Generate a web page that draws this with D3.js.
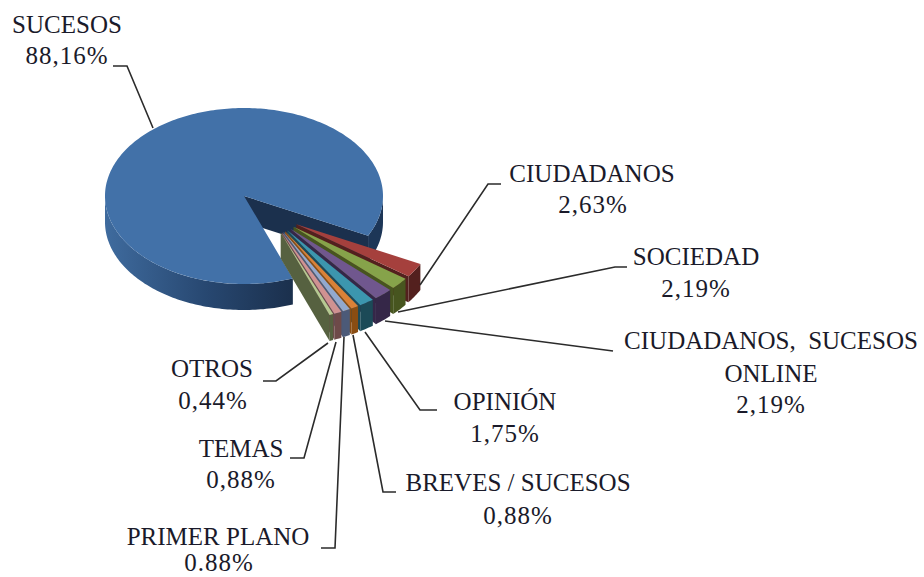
<!DOCTYPE html>
<html>
<head>
<meta charset="utf-8">
<script src="https://cdn.jsdelivr.net/npm/d3@7"></script>
<style>
html, body { margin: 0; padding: 0; background: #fff; overflow: hidden; }
svg { display: block; }
text { font-family: "Liberation Serif", serif; font-size: 25px; fill: #1a1a2a; }
text.pct { letter-spacing: 1px; }
</style>
</head>
<body>
<div id="chart-area"></div>
<script>
// chart values
var categories = ["SUCESOS", "CIUDADANOS", "SOCIEDAD", "CIUDADANOS,  SUCESOS", "OPINIÓN", "BREVES / SUCESOS", "PRIMER PLANO", "TEMAS", "OTROS"];
var values = [88.16, 2.63, 2.19, 2.19, 1.75, 0.88, 0.88, 0.88, 0.44];
var valueLabels = ["88,16%", "2,63%", "2,19%", "2,19%", "1,75%", "0,88%", "0.88%", "0,88%", "0,44%"];

// small slices: top colour, wall colour
var sliceValues = values.slice(1);
var topColors = ["#a5403d", "#86a34a", "#70578e", "#3c96ae", "#da8137", "#92a9cf", "#d09291", "#b5ca92"];
var wallColors = ["#53201e", "#47551f", "#352748", "#1c4a57", "#8a4d12", "#4c5a78", "#6e4a49", "#566140"];

var width = 924, height = 577;
var cx = 244, cy = 196, rx = 139, ry = 88, depth = 26;

var svg = d3.select("#chart-area").append("svg")
  .attr("width", width)
  .attr("height", height);

var grad = svg.append("defs").append("linearGradient")
  .attr("id", "wall")
  .attr("gradientUnits", "userSpaceOnUse")
  .attr("x1", cx - rx).attr("x2", cx + 48).attr("y1", 0).attr("y2", 0);
grad.append("stop").attr("offset", "0%").attr("stop-color", "#3f6b9e");
grad.append("stop").attr("offset", "55%").attr("stop-color", "#274770");
grad.append("stop").attr("offset", "100%").attr("stop-color", "#1b304d");

// angles in radians, clockwise from east on the flattened disc
var rad = d3.scaleLinear().domain([0, 100]).range([0, 2 * Math.PI]);
var startAngle = 26.8 * Math.PI / 180;

function px(a) { return rx * Math.cos(a); }
function py(a) { return ry * Math.sin(a); }

function arcPoints(x0, y0, a0, a1) {
  var n = Math.max(2, Math.ceil(Math.abs(a1 - a0) / 0.02));
  return d3.range(n + 1).map(function(i) {
    var a = a0 + (a1 - a0) * i / n;
    return [x0 + px(a), y0 + py(a)];
  });
}
var line = d3.line();

// main slice
var mainStart = startAngle + rad(d3.sum(sliceValues));
var mainEnd = startAngle + 2 * Math.PI;

// cut face seen through the gap
svg.append("path")
  .attr("fill", "#1b304d")
  .attr("d", line([[cx, cy], [cx + px(mainEnd), cy + py(mainEnd)], [cx + px(mainEnd), cy + py(mainEnd) + depth], [cx, cy + depth]]) + "Z");

// wall, left part
var wallA = arcPoints(cx, cy, mainStart, Math.PI);
svg.append("path")
  .attr("fill", "url(#wall)")
  .attr("d", line(wallA.concat(wallA.map(function(p) { return [p[0], p[1] + depth]; }).reverse())) + "Z");
// wall, right part
var wallB = arcPoints(cx, cy, 0, startAngle);
svg.append("path")
  .attr("fill", "#1d3657")
  .attr("d", line(wallB.concat(wallB.map(function(p) { return [p[0], p[1] + depth]; }).reverse())) + "Z");

svg.append("path")
  .attr("fill", "#4271a8")
  .attr("d", line([[cx, cy]].concat(arcPoints(cx, cy, mainStart, mainEnd))) + "Z");

// exploded slices, back to front
var groupMid = startAngle + rad(d3.sum(sliceValues)) / 2;
var pie = d3.pie().sort(null).startAngle(startAngle).endAngle(startAngle + rad(d3.sum(sliceValues)));
pie(sliceValues).forEach(function(d, i) {
  var mid = (d.startAngle + d.endAngle) / 2;
  var ox = cx + 0.27 * px(groupMid) + 0.23 * px(mid);
  var oy = cy + 0.27 * py(groupMid) + 0.23 * py(mid);
  var g = svg.append("g");
  var a1 = d.endAngle;
  // cut wall
  g.append("path")
    .attr("fill", wallColors[i])
    .attr("d", line([[ox, oy], [ox + px(a1), oy + py(a1)], [ox + px(a1), oy + py(a1) + depth], [ox, oy + depth]]) + "Z");
  // outer wall
  var w = arcPoints(ox, oy, d.startAngle, d.endAngle);
  g.append("path")
    .attr("fill", wallColors[i])
    .attr("d", line(w.concat(w.map(function(p) { return [p[0], p[1] + depth]; }).reverse())) + "Z");
  // top
  g.append("path")
    .attr("fill", topColors[i])
    .attr("d", line([[ox, oy]].concat(w)) + "Z");
});

// leader lines
var leaders = [
  [[113, 66], [127, 66], [153, 128]],
  [[501, 184], [488, 184], [420, 285]],
  [[627, 267], [615, 267], [398, 312]],
  [[613, 351], [385, 321]],
  [[437, 410], [420, 410], [365, 332]],
  [[396, 492], [383, 492], [353, 335]],
  [[321, 548], [335, 548], [344, 337]],
  [[290, 458], [304, 458], [336, 342]],
  [[263, 381], [276, 381], [328, 343]]
];
svg.selectAll("path.leader").data(leaders).enter().append("path")
  .attr("class", "leader")
  .attr("fill", "none")
  .attr("stroke", "#2b2b2b")
  .attr("stroke-width", 1.6)
  .attr("d", function(d) { return line(d); });

// labels
var labelRows = [
  [{t: categories[0], x: 67, y: 33}, {t: valueLabels[0], x: 67, y: 64, c: "pct"}],
  [{t: categories[1], x: 592, y: 182}, {t: valueLabels[1], x: 593, y: 213, c: "pct"}],
  [{t: categories[2], x: 696, y: 265}, {t: valueLabels[2], x: 696, y: 297, c: "pct"}],
  [{t: categories[3], x: 771, y: 349}, {t: "ONLINE", x: 771, y: 382}, {t: valueLabels[3], x: 771, y: 413, c: "pct"}],
  [{t: categories[4], x: 505, y: 410}, {t: valueLabels[4], x: 505, y: 442, c: "pct"}],
  [{t: categories[5], x: 518, y: 491}, {t: valueLabels[5], x: 518, y: 524, c: "pct"}],
  [{t: categories[6], x: 218, y: 545}, {t: valueLabels[6], x: 219, y: 571, c: "pct"}],
  [{t: categories[7], x: 241, y: 457}, {t: valueLabels[7], x: 241, y: 488, c: "pct"}],
  [{t: categories[8], x: 212, y: 377}, {t: valueLabels[8], x: 213, y: 409, c: "pct"}]
];
labelRows.forEach(function(rows) {
  svg.selectAll(null).data(rows).enter().append("text")
    .attr("class", function(d) { return d.c || null; })
    .attr("x", function(d) { return d.x; })
    .attr("y", function(d) { return d.y; })
    .attr("text-anchor", "middle")
    .style("white-space", "pre")
    .text(function(d) { return d.t; });
});
</script>
</body>
</html>
